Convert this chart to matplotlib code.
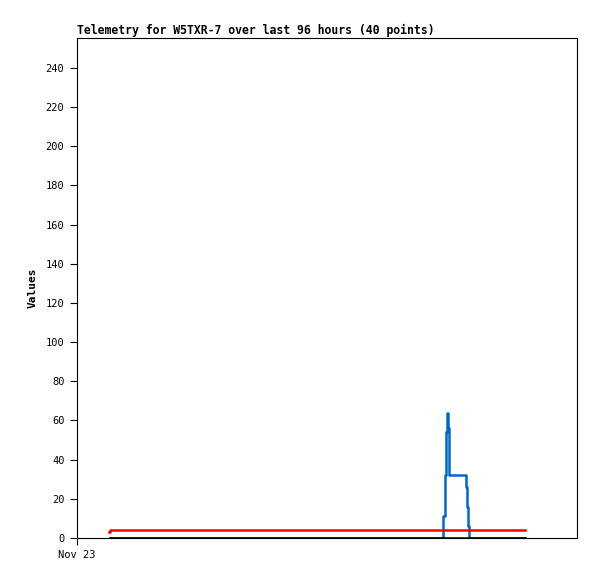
import matplotlib
matplotlib.use("Agg")
import matplotlib.pyplot as plt

title = "Telemetry for W5TXR-7 over last 96 hours (40 points)"
x_tick_label = "Nov 23"

# hours since Nov 23 00:00
blue_t = [6.6, 73.26, 73.54, 73.74, 73.94, 74.14, 74.34, 74.46, 77.74, 78.0, 78.26, 78.4, 89.6]
blue_v = [0, 11, 32, 54, 64, 56, 40, 32, 26, 16, 6, 0, 0]

red_t = [6.3, 6.6, 89.6]
red_v = [3, 4, 4]

black_t = [6.6, 89.6]
black_v = [0, 0]

fig = plt.figure(figsize=(5.97, 5.79), dpi=100)
ax = fig.add_axes([77/597, 41/579, 500/597, 500/579])

ax.step(blue_t, blue_v, where="post", color="#0066cc", lw=1.8, zorder=2)
ax.step(red_t, red_v, where="post", color="#ff0000", lw=1.8, zorder=3)
ax.plot(black_t, black_v, color="black", lw=1.8, zorder=4)

ax.set_xlim(0, 100)
ax.set_ylim(0, 255.3)
ax.set_yticks(range(0, 241, 20))
ax.set_xticks([0])
ax.set_xticklabels([x_tick_label])

mono = "DejaVu Sans Mono"
for lbl in ax.get_yticklabels() + ax.get_xticklabels():
    lbl.set_fontfamily(mono)
    lbl.set_fontsize(7.5)
ax.tick_params(direction="out", length=5, width=0.8, pad=4)

ax.set_ylabel("Values", fontfamily=mono, fontweight="bold", fontsize=8, labelpad=6)
ax.set_title(title, fontfamily=mono, fontweight="bold", fontsize=8.3, loc="left", pad=3)

for s in ax.spines.values():
    s.set_linewidth(0.8)

fig.savefig("out.png", dpi=100)
